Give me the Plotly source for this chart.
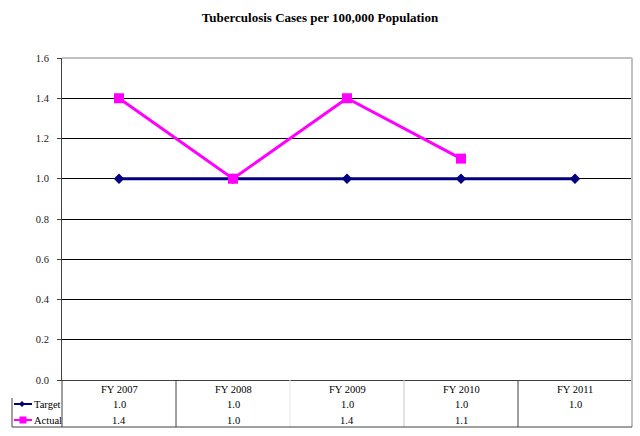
import plotly.graph_objects as go

categories = ["FY 2007", "FY 2008", "FY 2009", "FY 2010", "FY 2011"]
target = [1.0, 1.0, 1.0, 1.0, 1.0]
actual = [1.4, 1.0, 1.4, 1.1, None]
y_ticks = [0.0, 0.2, 0.4, 0.6, 0.8, 1.0, 1.2, 1.4, 1.6]

NAVY = "#000080"
MAGENTA = "#FF00FF"
FONT = "Liberation Serif, Times New Roman, serif"
FS = 10.5

W, H = 640, 436
L, R, T, B = 62, 8, 58, 56
PW = W - L - R
PH = H - T - B


def px(x):
    return (x - L) / PW


def py(y):
    return (H - B - y) / PH


fig = go.Figure()
fig.add_trace(go.Scatter(x=categories, y=target, mode="lines+markers", name="Target",
                         line=dict(color=NAVY, width=3),
                         marker=dict(symbol="diamond", size=8, color=NAVY)))
fig.add_trace(go.Scatter(x=categories, y=actual, mode="lines+markers", name="Actual",
                         line=dict(color=MAGENTA, width=3),
                         marker=dict(symbol="square", size=10, color=MAGENTA)))

shapes = []
ann = []
# top and right borders of plot area
shapes.append(dict(type="line", xref="paper", yref="paper", x0=0, x1=1, y0=1, y1=1,
                   line=dict(color="#808080", width=1)))
shapes.append(dict(type="line", xref="paper", yref="paper", x0=1, x1=1, y0=py(427), y1=1,
                   line=dict(color="#c0c0c0", width=2)))
# table lines
n = len(categories)
divider_colors = ["#404040", "#404040", "#e6e6e6", "#c8c8c8", "#404040"]
for k in range(0, n):
    xk = k / n
    shapes.append(dict(type="line", xref="paper", yref="paper", x0=xk, x1=xk,
                       y0=py(427), y1=0, line=dict(color=divider_colors[k], width=1)))
shapes.append(dict(type="line", xref="paper", yref="paper", x0=px(12), x1=1,
                   y0=py(427), y1=py(427), line=dict(color="#404040", width=1)))
shapes.append(dict(type="line", xref="paper", yref="paper", x0=px(12), x1=px(12),
                   y0=py(398), y1=py(427), line=dict(color="#404040", width=1)))

# legend keys in table
rows = [("Target", target, NAVY, 404), ("Actual", actual, MAGENTA, 420)]
for name, vals, col, yy in rows:
    shapes.append(dict(type="line", xref="paper", yref="paper", x0=px(14), x1=px(32),
                       y0=py(yy), y1=py(yy), line=dict(color=col, width=2)))
    ann.append(dict(text=name, xref="paper", yref="paper", x=px(32), y=py(yy),
                    xanchor="left", yanchor="middle", showarrow=False,
                    font=dict(family=FONT, size=FS, color="#000000")))
    for c, v in zip(categories, vals):
        if v is None:
            continue
        ann.append(dict(text=f"{v:.1f}", xref="x", yref="paper", x=c, y=py(yy),
                        xanchor="center", yanchor="middle", showarrow=False,
                        font=dict(family=FONT, size=FS, color="#000000")))
# legend markers
cx, cy = px(22), py(404)
dx, dy = 3 / PW, 3 / PH
shapes.append(dict(type="path", xref="paper", yref="paper",
                   path=f"M {cx-dx} {cy} L {cx} {cy+dy} L {cx+dx} {cy} L {cx} {cy-dy} Z",
                   fillcolor=NAVY, line=dict(color=NAVY, width=0)))
cx, cy = px(23), py(420)
dx, dy = 3.5 / PW, 3.5 / PH
shapes.append(dict(type="rect", xref="paper", yref="paper",
                   x0=cx - dx, x1=cx + dx, y0=cy - dy, y1=cy + dy,
                   fillcolor=MAGENTA, line=dict(color=MAGENTA, width=0)))
# header
for c in categories:
    ann.append(dict(text=c, xref="x", yref="paper", x=c, y=py(389),
                    xanchor="center", yanchor="middle", showarrow=False,
                    font=dict(family=FONT, size=FS, color="#000000")))

fig.update_layout(
    width=W, height=H,
    margin=dict(l=L, r=R, t=T, b=B),
    paper_bgcolor="white", plot_bgcolor="white",
    showlegend=False,
    title=dict(text="<b>Tuberculosis Cases per 100,000 Population</b>",
               x=0.5, xref="container", xanchor="center",
               y=1 - 17 / H, yref="container", yanchor="middle",
               font=dict(family=FONT, size=13, color="#000000")),
    shapes=shapes, annotations=ann,
)
fig.update_xaxes(type="category", range=[-0.5, n - 0.5], showticklabels=False,
                 showgrid=False, zeroline=False, showline=True, linecolor="#404040",
                 linewidth=1, ticks="")
fig.update_yaxes(range=[0, 1.6], tickvals=y_ticks, ticktext=[f"{v:.1f}" for v in y_ticks],
                 showgrid=True, gridcolor="#000000", gridwidth=1, zeroline=False,
                 showline=True, linecolor="#404040", linewidth=1,
                 ticks="outside", ticklen=4, tickcolor="#404040", ticklabelstandoff=6,
                 tickfont=dict(family=FONT, size=FS, color="#202020"))

fig.write_html("out.html", config={"displayModeBar": False},
               post_script="document.body.style.margin='0';document.body.style.overflow='hidden';")
